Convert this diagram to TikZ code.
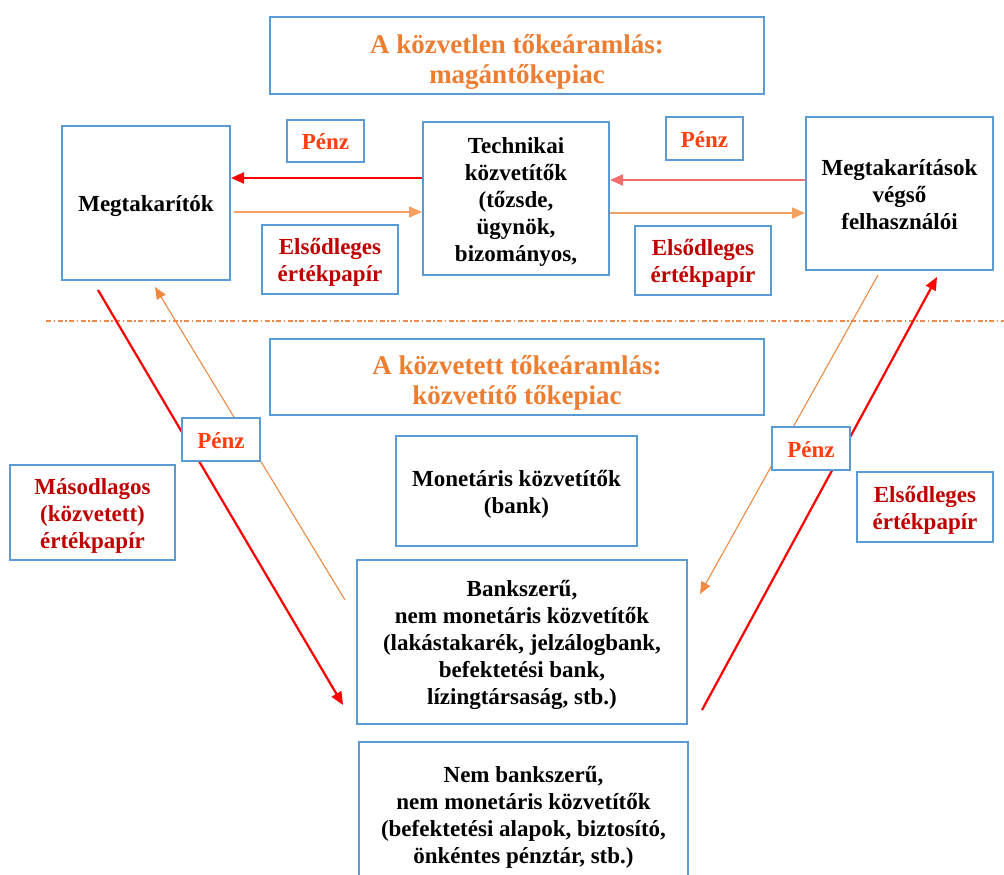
\documentclass[tikz,border=0pt]{standalone}
\usepackage{fontspec}
\setmainfont{Liberation Serif}
\usetikzlibrary{arrows.meta}
\definecolor{boxblue}{HTML}{5B9BD5}
\definecolor{titleor}{HTML}{ED7D31}
\definecolor{penzred}{HTML}{FF3F0F}
\definecolor{papred}{HTML}{C00000}
\definecolor{arrred}{HTML}{FF0000}
\definecolor{arrsalmon}{HTML}{F26E6A}
\definecolor{arror}{HTML}{F4A061}
\definecolor{diagor}{HTML}{EF8A45}
\definecolor{sepline}{HTML}{EE8A4C}

% fixed first-line height and last-line depth keep every label at the same optical level
\newcommand{\upstrut}{\rule{0pt}{1em}}
\newcommand{\titlestrut}{\rule{0pt}{1.2em}}
\newcommand{\dnstrut}{\rule[-0.24em]{0pt}{0pt}}

\tikzset{
  box/.style={draw=boxblue, line width=2pt, fill=white, align=center, inner sep=0pt,
    font=\fontsize{23}{27}\selectfont\bfseries},
  titlebox/.style={box, text=titleor, font=\fontsize{27}{30}\selectfont\bfseries},
  penzbox/.style={box, text=penzred},
  papbox/.style={box, text=papred},
  redarr/.style={draw=arrred, line width=2.2pt, -{Triangle[length=13pt,width=11pt]}},
  salmonarr/.style={draw=arrsalmon, line width=2pt, -{Triangle[length=13pt,width=11pt]}},
  orarr/.style={draw=arror, line width=1.6pt, -{Triangle[length=13pt,width=11pt]}},
  diagarr/.style={draw=diagor, line width=1.1pt, -{Triangle[length=12pt,width=10pt]}},
  sepdash/.style={draw=sepline, line width=1.2pt, dash pattern=on 5pt off 2.5pt on 1.5pt off 2.5pt}
}

\begin{document}
\begin{tikzpicture}[x=1pt, y=-1pt]
\useasboundingbox (0,0) rectangle (1004,875);
\clip (0,0) rectangle (1004,875);
\fill[white] (0,0) rectangle (1004,875);

% main boxes
\node[titlebox, minimum width=494pt, minimum height=77pt] (t1) at (517,55.5)
  {\titlestrut A közvetlen tőkeáramlás:\\magántőkepiac\dnstrut};
\node[box, minimum width=168pt, minimum height=154pt] (megt) at (146,203) {\upstrut Megtakarítók\dnstrut};
\node[box, minimum width=186pt, minimum height=153pt] (tech) at (516,198.5)
  {\upstrut Technikai\\közvetítők\\(tőzsde,\\ügynök,\\bizományos,\dnstrut};
\node[box, minimum width=187pt, minimum height=153pt] (felh) at (899.5,193.5)
  {\upstrut Megtakarítások\\végső\\felhasználói\dnstrut};
\node[titlebox, minimum width=494pt, minimum height=76pt] (t2) at (517,377)
  {\titlestrut A közvetett tőkeáramlás:\\közvetítő tőkepiac\dnstrut};
\node[box, minimum width=241pt, minimum height=110pt] (mon) at (516.5,491)
  {\upstrut Monetáris közvetítők\\(bank)\dnstrut};
\node[box, minimum width=330pt, minimum height=164pt] (bsz) at (522,642)
  {\upstrut Bankszerű,\\nem monetáris közvetítők\\(lakástakarék, jelzálogbank,\\befektetési bank,\\lízingtársaság, stb.)\dnstrut};
\node[box, minimum width=329pt, minimum height=145pt] (nbsz) at (523.5,814.5)
  {\upstrut Nem bankszerű,\\nem monetáris közvetítők\\(befektetési alapok, biztosító,\\önkéntes pénztár, stb.)\dnstrut};

% separator between direct and indirect flows
\coordinate (sepL) at (46,321);
\coordinate (sepR) at (1004,321);
\draw[sepdash] (sepL) -- (sepR);

% horizontal flows
\draw[redarr] (tech.west |- 0,178) -- (megt.east |- 0,178);
\draw[orarr] ([xshift=3pt]megt.east |- 0,212) -- (tech.west |- 0,212);
\draw[salmonarr] (felh.west |- 0,180) -- (tech.east |- 0,180);
\draw[orarr] (tech.east |- 0,213) -- (felh.west |- 0,213);

% diagonal flows
\coordinate (lr1) at (98,290);
\coordinate (lr2) at (343,705);
\coordinate (lo1) at (345,600);
\coordinate (lo2) at (155,287);
\coordinate (ro1) at (878,275);
\coordinate (ro2) at (700,594);
\coordinate (rr1) at (702,710);
\coordinate (rr2) at (937,277);
\draw[redarr] (lr1) -- (lr2);
\draw[diagarr] (lo1) -- (lo2);
\draw[diagarr] (ro1) -- (ro2);
\draw[redarr] (rr1) -- (rr2);

% flow labels
\node[penzbox, minimum width=77pt, minimum height=42pt] (p1) at (325.5,141) {\upstrut Pénz\dnstrut};
\node[penzbox, minimum width=77pt, minimum height=43pt] (p2) at (704.5,138.5) {\upstrut Pénz\dnstrut};
\node[papbox, minimum width=136pt, minimum height=69pt] (e1) at (330,259.5) {\upstrut Elsődleges\\értékpapír\dnstrut};
\node[papbox, minimum width=136pt, minimum height=69pt] (e2) at (703,260.5) {\upstrut Elsődleges\\értékpapír\dnstrut};
\node[penzbox, minimum width=78pt, minimum height=43pt] (p3) at (221,439.5) {\upstrut Pénz\dnstrut};
\node[papbox, minimum width=165pt, minimum height=95pt] (m1) at (92.5,512.5) {\upstrut Másodlagos\\(közvetett)\\értékpapír\dnstrut};
\node[penzbox, minimum width=78pt, minimum height=43pt] (p4) at (811,448.5) {\upstrut Pénz\dnstrut};
\node[papbox, minimum width=136pt, minimum height=70pt] (e3) at (925,507) {\upstrut Elsődleges\\értékpapír\dnstrut};
\end{tikzpicture}
\end{document}
